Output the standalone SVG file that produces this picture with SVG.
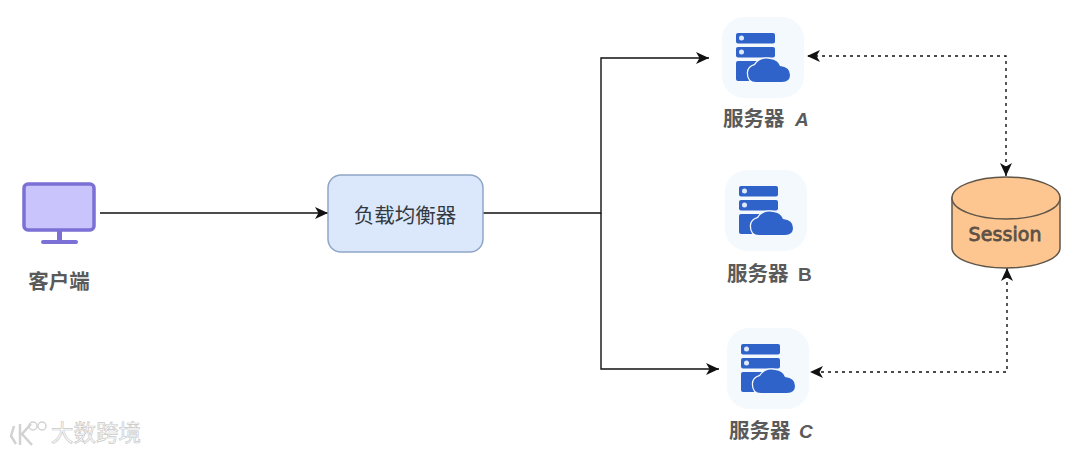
<svg xmlns="http://www.w3.org/2000/svg" width="1080" height="454" viewBox="0 0 1080 454">
<style>
text{font-family:"Noto Sans CJK SC","Noto Sans",sans-serif}
.lab{font-size:20.5px;font-weight:700;fill:#5a5a5a}
.latin{font-family:"Liberation Sans",sans-serif;font-size:19px}
.con{fill:none;stroke:#111;stroke-width:1.4}
.dash{stroke-dasharray:3 4}
.mono{fill:#2f63c9}
</style>
<defs>
<marker id="ah" markerUnits="userSpaceOnUse" markerWidth="14" markerHeight="13" refX="13" refY="6.500" orient="auto"><path d="M0 0.500L13 6.500L0 12.500L3.500 6.500Z" fill="#111"/></marker>
<marker id="ahs" markerUnits="userSpaceOnUse" markerWidth="14" markerHeight="13" refX="13" refY="6.500" orient="auto-start-reverse"><path d="M0 0.500L13 6.500L0 12.500L3.500 6.500Z" fill="#111"/></marker>
<g id="srv">
<rect x="0" y="0" width="82" height="81" rx="22" fill="#f4f9fe"/>
<rect x="14" y="16" width="39" height="10.500" rx="2" class="mono"/>
<circle cx="19.500" cy="21" r="2.500" fill="#dfe9fa"/>
<rect x="14" y="30" width="39" height="10.500" rx="2" class="mono"/>
<circle cx="19.500" cy="35" r="2.500" fill="#dfe9fa"/>
<path d="M16 44H50V64H16Q14 64 14 62V46Q14 44 16 44Z" class="mono"/>
<path d="M34 65Q26 65 26 56Q26 50 33 48Q38 40 48 42Q56 43 58 49Q68 50 68 58Q68 65 60 65Z" class="mono" stroke="#f4f9fe" stroke-width="2.500" paint-order="stroke"/>
</g>
</defs>
<rect width="1080" height="454" fill="#fff"/>
<g id="connectors">
<path class="con" d="M100 213H328" marker-end="url(#ah)"/>
<path class="con" d="M483 213H601V58H709" marker-end="url(#ah)"/>
<path class="con" d="M601 213V369H719" marker-end="url(#ah)"/>
<path class="con dash" d="M1006 176V56H807" marker-start="url(#ahs)" marker-end="url(#ahs)"/>
<path class="con dash" d="M1007 268V372H810" marker-start="url(#ahs)" marker-end="url(#ahs)"/>
</g>
<g id="client">
<rect x="24" y="184" width="70" height="46" rx="4" fill="#c9c4fb" stroke="#7b70d6" stroke-width="3.500"/>
<rect x="57" y="231" width="5" height="9" fill="#7b70d6"/>
<rect x="41" y="240" width="37" height="4" rx="2" fill="#7b70d6"/>
<text class="lab" x="59" y="289" text-anchor="middle">客户端</text>
</g>
<g id="lb">
<rect x="328" y="175" width="155" height="77" rx="13" fill="#dbe8fb" stroke="#8fa6c6" stroke-width="1.500"/>
<text x="405" y="223" font-size="20.500" fill="#33393f" text-anchor="middle">负载均衡器</text>
</g>
<g id="serverA">
<use href="#srv" x="722" y="17"/>
<text class="lab" x="723" y="126">服务器</text><text class="lab latin" x="795" y="126" font-style="italic">A</text>
</g>
<g id="serverB">
<use href="#srv" x="725" y="170"/>
<text class="lab" x="727" y="281">服务器</text><text class="lab latin" x="798" y="281">B</text>
</g>
<g id="serverC">
<use href="#srv" x="727" y="328"/>
<text class="lab" x="729" y="438">服务器</text><text class="lab latin" x="799" y="438" font-style="italic">C</text>
</g>
<g id="session">
<path d="M952 198V248C952 259 976 268 1006 268S1060 259 1060 248V198Z" fill="#fdc691" stroke="#5f5548" stroke-width="1.500"/>
<ellipse cx="1006" cy="198" rx="54" ry="21" fill="#fdc691" stroke="#5f5548" stroke-width="1.500"/>
<text x="1005" y="241" font-size="19" fill="#5d5146" stroke="#5d5146" stroke-width="0.800" text-anchor="middle" style="font-family:'DejaVu Sans',sans-serif" textLength="73">Session</text>
</g>
<g id="watermark" fill="none" stroke="#d2d2d2">
<path d="M14 426L11 436L16 444M20 424V445M31 424L22 434L32 445" stroke-width="2.500"/>
<circle cx="33" cy="426" r="4" stroke-width="1.500"/>
<circle cx="42" cy="426" r="4" stroke-width="1.500"/>
<text x="51" y="441" font-size="22.500" fill="#fff" stroke="#c9c9c9" stroke-width="0.700">大数跨境</text>
</g>
</svg>
